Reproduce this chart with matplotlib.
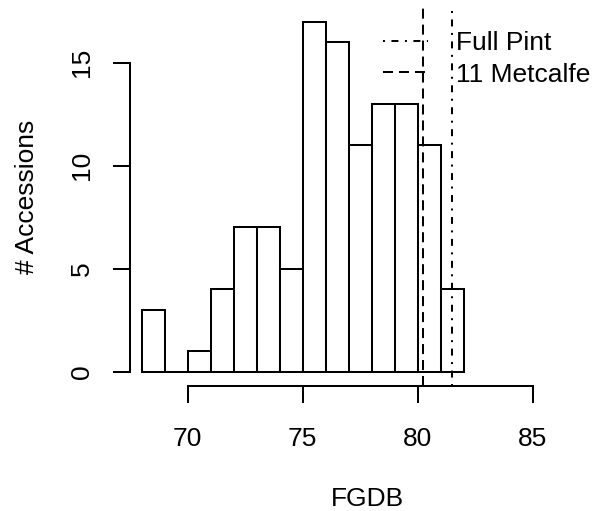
import numpy as np
import matplotlib.pyplot as plt
from matplotlib.lines import Line2D

# histogram of FGDB, 1-unit bins
bin_edges = np.arange(68, 83, 1)
counts = [3, 0, 1, 4, 7, 7, 5, 17, 16, 11, 13, 13, 11, 4]
full_pint = 81.5
metcalfe = 80.25
x_ticks = [70, 75, 80, 85]
y_ticks = [0, 5, 10, 15]

plt.rcParams["font.family"] = ["Liberation Sans", "DejaVu Sans"]
plt.rcParams["font.size"] = 19
plt.rcParams["lines.scale_dashes"] = False

W, H = 595, 511
fig = plt.figure(figsize=(W / 100, H / 100), dpi=100)
# plot region in pixels (left, top, right, bottom)
l, t, r, b = 130, 7.5, 605, 385.7
ax = fig.add_axes([l / W, 1 - b / H, (r - l) / W, (b - t) / H])

lw = 1.45
ax.bar(bin_edges[:-1], counts, width=1, align="edge", facecolor="white",
       edgecolor="black", linewidth=lw)

dash_style = (0, (7.2, 4.3))
dotdash_style = (0, (1.4, 4.7, 5.0, 4.7))
ax.axvline(full_pint, color="black", lw=lw, linestyle=dotdash_style)
ax.axvline(metcalfe, color="black", lw=lw, linestyle=dash_style)

ax.set_xlim(67.49, 67.49 + (r - l) / 23.0)
ax.set_ylim(-0.68, 17.68)

for s in ["top", "right"]:
    ax.spines[s].set_visible(False)
ax.spines["left"].set_bounds(0, 15)
ax.spines["bottom"].set_bounds(70, 85)
ax.spines["left"].set_linewidth(lw)
ax.spines["bottom"].set_linewidth(lw)

ax.set_xticks(x_ticks)
ax.set_yticks(y_ticks)
ax.set_yticklabels([str(v) for v in y_ticks], rotation=90, va="center")
ax.tick_params(axis="both", direction="out", length=12, width=lw)
ax.tick_params(axis="x", pad=18)
ax.tick_params(axis="y", pad=14)

ax.set_xlabel("FGDB", labelpad=26)
ax.set_ylabel("# Accessions", labelpad=22)

handles = [Line2D([], [], color="black", lw=lw, linestyle=dotdash_style),
           Line2D([], [], color="black", lw=lw, linestyle=dash_style)]
ax.legend(handles, ["Full Pint", "11 Metcalfe"], loc="upper right",
          bbox_to_anchor=(1.0 + 9 / (r - l), 1.0), frameon=False,
          handlelength=1.7, handletextpad=1.05, labelspacing=0.28,
          borderaxespad=0.6, borderpad=0.3)

fig.savefig("out.png", dpi=100)
